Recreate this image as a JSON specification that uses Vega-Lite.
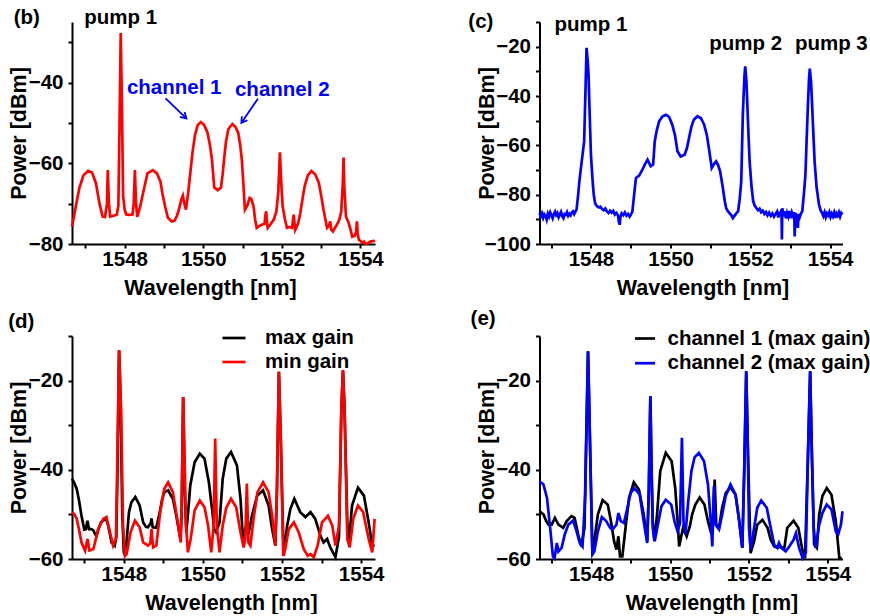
{
 "$schema": "https://vega.github.io/schema/vega-lite/v6.json",
 "padding": {"left": 8, "top": 8, "right": 0, "bottom": 0},
 "background": "white",
 "bounds": "flush",
 "columns": 2,
 "spacing": {"row": 92, "column": 164.5},
 "resolve": {"scale": {"x": "independent", "y": "independent", "color": "independent"}, "axis": {"x": "independent", "y": "independent"}, "legend": {"color": "independent"}},
 "config": {
  "font": "Liberation Sans",
  "view": {"stroke": null},
  "axis": {"grid": false, "domainColor": "black", "domainWidth": 2, "tickColor": "black", "tickWidth": 2, "tickSize": 4, "labelFont": "Liberation Sans", "labelFontSize": 20.5, "labelFontWeight": "bold", "labelColor": "black", "titleFont": "Liberation Sans", "titleFontSize": 21.5, "titleFontWeight": "bold", "titleColor": "black", "labelFlush": false, "labelOverlap": false},
  "axisX": {"labelPadding": 1, "titlePadding": 8, "minExtent": 25, "maxExtent": 25},
  "axisY": {"labelPadding": 5, "titlePadding": 3, "minExtent": 38.5, "maxExtent": 38.5}
 },
 "datasets": {
  "b_line": [
   {"x":1546.66,"y":-75.7},{"x":1546.75,"y":-71},{"x":1546.85,"y":-66},{"x":1546.95,"y":-63},{"x":1547.07,"y":-61.9},{"x":1547.17,"y":-62.3},{"x":1547.27,"y":-65},{"x":1547.36,"y":-70},{"x":1547.44,"y":-73.2},{"x":1547.5,"y":-73.3},{"x":1547.55,"y":-70},{"x":1547.57,"y":-61.7},{"x":1547.6,"y":-70},{"x":1547.63,"y":-73.2},{"x":1547.72,"y":-73},{"x":1547.8,"y":-72.7},{"x":1547.84,"y":-70.5},{"x":1547.87,"y":-50},{"x":1547.9,"y":-27.7},{"x":1547.93,"y":-45},{"x":1547.96,"y":-68},{"x":1548.0,"y":-71.5},{"x":1548.04,"y":-72.7},{"x":1548.1,"y":-72.8},{"x":1548.2,"y":-72.7},{"x":1548.23,"y":-70},{"x":1548.26,"y":-61.7},{"x":1548.29,"y":-70},{"x":1548.32,"y":-73.3},{"x":1548.4,"y":-70.5},{"x":1548.47,"y":-67.3},{"x":1548.58,"y":-62.5},{"x":1548.72,"y":-61.7},{"x":1548.82,"y":-62.5},{"x":1548.91,"y":-64.5},{"x":1548.97,"y":-68},{"x":1549.03,"y":-70.7},{"x":1549.1,"y":-73.5},{"x":1549.2,"y":-74.4},{"x":1549.27,"y":-74.2},{"x":1549.33,"y":-73},{"x":1549.38,"y":-71.5},{"x":1549.44,"y":-69},{"x":1549.48,"y":-68},{"x":1549.52,"y":-70},{"x":1549.56,"y":-71.5},{"x":1549.62,"y":-67},{"x":1549.68,"y":-61.5},{"x":1549.73,"y":-57},{"x":1549.79,"y":-53},{"x":1549.86,"y":-50.5},{"x":1549.94,"y":-49.8},{"x":1550.02,"y":-50.5},{"x":1550.11,"y":-52.5},{"x":1550.17,"y":-55.5},{"x":1550.22,"y":-59},{"x":1550.28,"y":-66},{"x":1550.37,"y":-66.7},{"x":1550.45,"y":-66},{"x":1550.49,"y":-63},{"x":1550.53,"y":-59},{"x":1550.58,"y":-54.5},{"x":1550.64,"y":-51.5},{"x":1550.74,"y":-50.25},{"x":1550.82,"y":-51},{"x":1550.89,"y":-52.5},{"x":1550.94,"y":-55.5},{"x":1550.98,"y":-59},{"x":1551.02,"y":-65},{"x":1551.06,"y":-71.5},{"x":1551.12,"y":-70.5},{"x":1551.18,"y":-68.6},{"x":1551.22,"y":-68.8},{"x":1551.28,"y":-70.7},{"x":1551.32,"y":-74},{"x":1551.36,"y":-76},{"x":1551.43,"y":-75.5},{"x":1551.49,"y":-75.25},{"x":1551.56,"y":-75},{"x":1551.58,"y":-73},{"x":1551.6,"y":-71.9},{"x":1551.62,"y":-74.5},{"x":1551.64,"y":-76},{"x":1551.72,"y":-75},{"x":1551.79,"y":-74},{"x":1551.86,"y":-72},{"x":1551.91,"y":-67},{"x":1551.95,"y":-57.3},{"x":1551.98,"y":-64},{"x":1552.02,"y":-70.7},{"x":1552.08,"y":-74},{"x":1552.13,"y":-76},{"x":1552.2,"y":-75.8},{"x":1552.26,"y":-76},{"x":1552.3,"y":-72.75},{"x":1552.34,"y":-76.5},{"x":1552.41,"y":-75},{"x":1552.47,"y":-72.3},{"x":1552.53,"y":-68.5},{"x":1552.58,"y":-65.7},{"x":1552.66,"y":-63},{"x":1552.75,"y":-61.9},{"x":1552.85,"y":-62.8},{"x":1552.94,"y":-64.8},{"x":1553.0,"y":-68},{"x":1553.06,"y":-71.5},{"x":1553.11,"y":-74},{"x":1553.15,"y":-76},{"x":1553.2,"y":-75.5},{"x":1553.23,"y":-74.4},{"x":1553.26,"y":-76.5},{"x":1553.3,"y":-76.9},{"x":1553.35,"y":-76},{"x":1553.4,"y":-75.25},{"x":1553.46,"y":-74},{"x":1553.51,"y":-72},{"x":1553.55,"y":-65},{"x":1553.57,"y":-58.6},{"x":1553.59,"y":-66},{"x":1553.63,"y":-73.2},{"x":1553.7,"y":-74.8},{"x":1553.75,"y":-76.5},{"x":1553.79,"y":-78.2},{"x":1553.85,"y":-78},{"x":1553.89,"y":-77},{"x":1553.91,"y":-74.4},{"x":1553.93,"y":-77.5},{"x":1553.96,"y":-79},{"x":1554.0,"y":-79.2},{"x":1554.04,"y":-79.7},{"x":1554.09,"y":-79.4},{"x":1554.13,"y":-80},{"x":1554.19,"y":-79.8},{"x":1554.25,"y":-79.4},{"x":1554.31,"y":-79.3},{"x":1554.37,"y":-79.2}
  ],
  "b_text": [{"x":1545.51,"y":-25.5,"text":"(b)"},{"x":1547.9,"y":-25.5,"text":"pump 1"}],
  "b_chan": [{"x":1549.26,"y":-42.9,"text":"channel 1"},{"x":1552.01,"y":-43.4,"text":"channel 2"}],
  "b_arrow": [{"x":1549.04,"y":-43.9,"x2":1549.57,"y2":-48.9},{"x":1551.39,"y":-44.0,"x2":1550.97,"y2":-50.0}],
  "c_line": [
   {"x":1546.71,"y":-87.5},{"x":1546.74,"y":-88.8},{"x":1546.77,"y":-87.6},{"x":1546.8,"y":-89.4},{"x":1546.83,"y":-87.9},{"x":1546.86,"y":-88.6},{"x":1546.89,"y":-90.1},{"x":1546.92,"y":-87.7},{"x":1546.95,"y":-88.9},{"x":1546.98,"y":-87.2},{"x":1547.01,"y":-88.4},{"x":1547.04,"y":-89.6},{"x":1547.07,"y":-87.8},{"x":1547.1,"y":-86.9},{"x":1547.13,"y":-88.3},{"x":1547.16,"y":-87.5},{"x":1547.19,"y":-89.2},{"x":1547.22,"y":-88.1},{"x":1547.25,"y":-87.0},{"x":1547.28,"y":-88.7},{"x":1547.31,"y":-89.5},{"x":1547.34,"y":-87.9},{"x":1547.37,"y":-88.2},{"x":1547.4,"y":-87.1},{"x":1547.43,"y":-88.6},{"x":1547.46,"y":-87.8},{"x":1547.49,"y":-88.4},{"x":1547.52,"y":-87.2},{"x":1547.55,"y":-86.8},{"x":1547.58,"y":-87.9},{"x":1547.61,"y":-86.9},{"x":1547.64,"y":-86.0},{"x":1547.68,"y":-80},{"x":1547.71,"y":-74.6},{"x":1547.75,"y":-69},{"x":1547.79,"y":-63.8},{"x":1547.83,"y":-58.4},{"x":1547.86,"y":-40},{"x":1547.89,"y":-20.5},{"x":1547.92,"y":-26},{"x":1547.94,"y":-31.4},{"x":1547.97,"y":-48},{"x":1548.0,"y":-63.8},{"x":1548.04,"y":-74},{"x":1548.07,"y":-80},{"x":1548.1,"y":-83},{"x":1548.12,"y":-84},{"x":1548.16,"y":-84.8},{"x":1548.2,"y":-85.2},{"x":1548.24,"y":-84.9},{"x":1548.28,"y":-85.8},{"x":1548.32,"y":-86.3},{"x":1548.36,"y":-85.6},{"x":1548.4,"y":-86.8},{"x":1548.44,"y":-87.4},{"x":1548.48,"y":-86.5},{"x":1548.52,"y":-87.3},{"x":1548.56,"y":-86.6},{"x":1548.6,"y":-88.1},{"x":1548.64,"y":-87.4},{"x":1548.68,"y":-88.5},{"x":1548.7,"y":-91},{"x":1548.72,"y":-92.2},{"x":1548.74,"y":-89},{"x":1548.77,"y":-87.6},{"x":1548.81,"y":-88.3},{"x":1548.85,"y":-87.2},{"x":1548.89,"y":-88.5},{"x":1548.93,"y":-87.8},{"x":1548.97,"y":-88.9},{"x":1549.0,"y":-88.2},{"x":1549.04,"y":-86.8},{"x":1549.09,"y":-79},{"x":1549.13,"y":-73.2},{"x":1549.21,"y":-72.3},{"x":1549.29,"y":-69.9},{"x":1549.36,"y":-67.5},{"x":1549.42,"y":-65.8},{"x":1549.47,"y":-67.5},{"x":1549.5,"y":-68.5},{"x":1549.56,"y":-67.8},{"x":1549.6,"y":-58.4},{"x":1549.65,"y":-54},{"x":1549.71,"y":-50.3},{"x":1549.79,"y":-48.3},{"x":1549.88,"y":-47.6},{"x":1549.96,"y":-48.5},{"x":1550.04,"y":-51.6},{"x":1550.11,"y":-56},{"x":1550.17,"y":-62.4},{"x":1550.25,"y":-64.5},{"x":1550.35,"y":-63.8},{"x":1550.41,"y":-61},{"x":1550.46,"y":-57},{"x":1550.52,"y":-52.5},{"x":1550.58,"y":-49.6},{"x":1550.67,"y":-48.2},{"x":1550.76,"y":-49},{"x":1550.84,"y":-51.6},{"x":1550.91,"y":-56},{"x":1550.97,"y":-62.4},{"x":1551.03,"y":-69.2},{"x":1551.09,"y":-67.5},{"x":1551.14,"y":-66.5},{"x":1551.19,"y":-68},{"x":1551.24,"y":-70.5},{"x":1551.31,"y":-77.3},{"x":1551.35,"y":-82},{"x":1551.39,"y":-85.4},{"x":1551.43,"y":-86.6},{"x":1551.47,"y":-87.4},{"x":1551.52,"y":-88.3},{"x":1551.56,"y":-89.5},{"x":1551.6,"y":-88.6},{"x":1551.65,"y":-87.5},{"x":1551.69,"y":-86.8},{"x":1551.73,"y":-82},{"x":1551.77,"y":-74.6},{"x":1551.81,"y":-47.6},{"x":1551.85,"y":-32},{"x":1551.87,"y":-28},{"x":1551.9,"y":-34},{"x":1551.92,"y":-42.2},{"x":1551.95,"y":-55},{"x":1551.98,"y":-66.5},{"x":1552.03,"y":-77},{"x":1552.07,"y":-82.7},{"x":1552.11,"y":-84.5},{"x":1552.15,"y":-85.4},{"x":1552.19,"y":-86.3},{"x":1552.23,"y":-85.7},{"x":1552.27,"y":-87.1},{"x":1552.31,"y":-86.5},{"x":1552.35,"y":-87.8},{"x":1552.39,"y":-87.0},{"x":1552.43,"y":-88.4},{"x":1552.47,"y":-87.3},{"x":1552.51,"y":-88.6},{"x":1552.55,"y":-87.6},{"x":1552.59,"y":-88.9},{"x":1552.63,"y":-87.8},{"x":1552.67,"y":-86.8},{"x":1552.7,"y":-89.3},{"x":1552.73,"y":-86.9},{"x":1552.76,"y":-88.9},{"x":1552.78,"y":-86.0},{"x":1552.79,"y":-98.2},{"x":1552.8,"y":-85.5},{"x":1552.83,"y":-88.7},{"x":1552.86,"y":-86.7},{"x":1552.89,"y":-89.6},{"x":1552.92,"y":-87.4},{"x":1552.95,"y":-88.9},{"x":1552.98,"y":-86.6},{"x":1553.01,"y":-89.5},{"x":1553.04,"y":-87.2},{"x":1553.07,"y":-88.6},{"x":1553.1,"y":-87.1},{"x":1553.11,"y":-96.9},{"x":1553.13,"y":-87.5},{"x":1553.16,"y":-89.3},{"x":1553.19,"y":-93.5},{"x":1553.21,"y":-87.8},{"x":1553.24,"y":-89.0},{"x":1553.27,"y":-87.6},{"x":1553.3,"y":-86.8},{"x":1553.34,"y":-80},{"x":1553.38,"y":-71.9},{"x":1553.41,"y":-58},{"x":1553.44,"y":-44.9},{"x":1553.47,"y":-33},{"x":1553.49,"y":-28.9},{"x":1553.52,"y":-34},{"x":1553.54,"y":-40.8},{"x":1553.57,"y":-52},{"x":1553.61,"y":-66.5},{"x":1553.66,"y":-77},{"x":1553.72,"y":-84},{"x":1553.76,"y":-86.3},{"x":1553.8,"y":-87.5},{"x":1553.83,"y":-88.7},{"x":1553.86,"y":-87.2},{"x":1553.89,"y":-89.1},{"x":1553.92,"y":-87.6},{"x":1553.95,"y":-88.4},{"x":1553.98,"y":-87.1},{"x":1554.01,"y":-89.0},{"x":1554.04,"y":-87.7},{"x":1554.07,"y":-88.8},{"x":1554.1,"y":-87.3},{"x":1554.13,"y":-89.4},{"x":1554.16,"y":-87.6},{"x":1554.19,"y":-88.5},{"x":1554.22,"y":-87.2},{"x":1554.25,"y":-88.9},{"x":1554.28,"y":-87.4},{"x":1554.31,"y":-88.0}
  ],
  "c_text": [{"x":1545.24,"y":-12.3,"text":"(c)"},{"x":1548.0,"y":-13.5,"text":"pump 1"},{"x":1551.88,"y":-21.35,"text":"pump 2"},{"x":1554.03,"y":-21.35,"text":"pump 3"}],
  "d_line": [
   {"s":"max gain","x":1546.69,"y":-42},{"s":"max gain","x":1546.75,"y":-43},{"s":"max gain","x":1546.81,"y":-44.3},{"s":"max gain","x":1546.87,"y":-47},{"s":"max gain","x":1546.93,"y":-50.3},{"s":"max gain","x":1547.0,"y":-53.4},{"s":"max gain","x":1547.04,"y":-53.3},{"s":"max gain","x":1547.08,"y":-51.4},{"s":"max gain","x":1547.12,"y":-53.3},{"s":"max gain","x":1547.18,"y":-53.3},{"s":"max gain","x":1547.23,"y":-53.6},{"s":"max gain","x":1547.28,"y":-54.5},{"s":"max gain","x":1547.31,"y":-54.8},{"s":"max gain","x":1547.36,"y":-53.3},{"s":"max gain","x":1547.42,"y":-51.8},{"s":"max gain","x":1547.52,"y":-51},{"s":"max gain","x":1547.58,"y":-51.6},{"s":"max gain","x":1547.64,"y":-54},{"s":"max gain","x":1547.69,"y":-56.3},{"s":"max gain","x":1547.77,"y":-57},{"s":"max gain","x":1547.81,"y":-55},{"s":"max gain","x":1547.84,"y":-40},{"s":"max gain","x":1547.88,"y":-13.2},{"s":"max gain","x":1547.92,"y":-25},{"s":"max gain","x":1547.96,"y":-50},{"s":"max gain","x":1548.0,"y":-58.5},{"s":"max gain","x":1548.04,"y":-59.3},{"s":"max gain","x":1548.08,"y":-55},{"s":"max gain","x":1548.13,"y":-49.5},{"s":"max gain","x":1548.19,"y":-47.3},{"s":"max gain","x":1548.29,"y":-46.1},{"s":"max gain","x":1548.4,"y":-48},{"s":"max gain","x":1548.49,"y":-51.8},{"s":"max gain","x":1548.56,"y":-52.8},{"s":"max gain","x":1548.61,"y":-52.9},{"s":"max gain","x":1548.68,"y":-52},{"s":"max gain","x":1548.7,"y":-50.9},{"s":"max gain","x":1548.73,"y":-52.9},{"s":"max gain","x":1548.82,"y":-53},{"s":"max gain","x":1548.91,"y":-49.5},{"s":"max gain","x":1548.97,"y":-46.5},{"s":"max gain","x":1549.03,"y":-45},{"s":"max gain","x":1549.12,"y":-44.6},{"s":"max gain","x":1549.24,"y":-46.5},{"s":"max gain","x":1549.31,"y":-49.5},{"s":"max gain","x":1549.37,"y":-52.5},{"s":"max gain","x":1549.43,"y":-55.5},{"s":"max gain","x":1549.46,"y":-50},{"s":"max gain","x":1549.5,"y":-23.7},{"s":"max gain","x":1549.54,"y":-45},{"s":"max gain","x":1549.58,"y":-54},{"s":"max gain","x":1549.63,"y":-49},{"s":"max gain","x":1549.68,"y":-43.5},{"s":"max gain","x":1549.79,"y":-38.3},{"s":"max gain","x":1549.92,"y":-36.4},{"s":"max gain","x":1550.04,"y":-37.5},{"s":"max gain","x":1550.15,"y":-42.8},{"s":"max gain","x":1550.24,"y":-49.5},{"s":"max gain","x":1550.28,"y":-53.3},{"s":"max gain","x":1550.33,"y":-54},{"s":"max gain","x":1550.42,"y":-51.8},{"s":"max gain","x":1550.5,"y":-42},{"s":"max gain","x":1550.59,"y":-37.5},{"s":"max gain","x":1550.71,"y":-36},{"s":"max gain","x":1550.86,"y":-39},{"s":"max gain","x":1550.95,"y":-46.5},{"s":"max gain","x":1551.01,"y":-55.5},{"s":"max gain","x":1551.08,"y":-53},{"s":"max gain","x":1551.16,"y":-54},{"s":"max gain","x":1551.24,"y":-50.3},{"s":"max gain","x":1551.37,"y":-45.8},{"s":"max gain","x":1551.52,"y":-44.6},{"s":"max gain","x":1551.66,"y":-48},{"s":"max gain","x":1551.75,"y":-53.3},{"s":"max gain","x":1551.83,"y":-57},{"s":"max gain","x":1551.87,"y":-45},{"s":"max gain","x":1551.92,"y":-18},{"s":"max gain","x":1551.97,"y":-33.8},{"s":"max gain","x":1552.04,"y":-59.3},{"s":"max gain","x":1552.13,"y":-52.5},{"s":"max gain","x":1552.21,"y":-48.8},{"s":"max gain","x":1552.31,"y":-46.5},{"s":"max gain","x":1552.46,"y":-49.5},{"s":"max gain","x":1552.59,"y":-50.6},{"s":"max gain","x":1552.72,"y":-49.5},{"s":"max gain","x":1552.84,"y":-51},{"s":"max gain","x":1552.97,"y":-54.8},{"s":"max gain","x":1553.05,"y":-56.3},{"s":"max gain","x":1553.14,"y":-55.5},{"s":"max gain","x":1553.22,"y":-57.4},{"s":"max gain","x":1553.35,"y":-59.6},{"s":"max gain","x":1553.44,"y":-55},{"s":"max gain","x":1553.5,"y":-26.3},{"s":"max gain","x":1553.54,"y":-17.7},{"s":"max gain","x":1553.58,"y":-26.3},{"s":"max gain","x":1553.65,"y":-52},{"s":"max gain","x":1553.69,"y":-56.3},{"s":"max gain","x":1553.77,"y":-48},{"s":"max gain","x":1553.92,"y":-44},{"s":"max gain","x":1554.07,"y":-45.8},{"s":"max gain","x":1554.19,"y":-51.8},{"s":"max gain","x":1554.28,"y":-57},{"s":"max gain","x":1554.34,"y":-57},
   {"s":"min gain","x":1546.69,"y":-49.5},{"s":"min gain","x":1546.75,"y":-50},{"s":"min gain","x":1546.81,"y":-51},{"s":"min gain","x":1546.87,"y":-53.5},{"s":"min gain","x":1546.93,"y":-56.3},{"s":"min gain","x":1547.02,"y":-58.1},{"s":"min gain","x":1547.08,"y":-55.5},{"s":"min gain","x":1547.13,"y":-58.1},{"s":"min gain","x":1547.23,"y":-57.8},{"s":"min gain","x":1547.35,"y":-53.3},{"s":"min gain","x":1547.48,"y":-51},{"s":"min gain","x":1547.56,"y":-50.6},{"s":"min gain","x":1547.65,"y":-54},{"s":"min gain","x":1547.73,"y":-57},{"s":"min gain","x":1547.8,"y":-55.5},{"s":"min gain","x":1547.83,"y":-41.3},{"s":"min gain","x":1547.88,"y":-13.2},{"s":"min gain","x":1547.93,"y":-26.3},{"s":"min gain","x":1547.98,"y":-52.5},{"s":"min gain","x":1548.03,"y":-59.3},{"s":"min gain","x":1548.07,"y":-58.9},{"s":"min gain","x":1548.17,"y":-54},{"s":"min gain","x":1548.28,"y":-51.4},{"s":"min gain","x":1548.4,"y":-52.9},{"s":"min gain","x":1548.49,"y":-56.3},{"s":"min gain","x":1548.61,"y":-57},{"s":"min gain","x":1548.67,"y":-56.5},{"s":"min gain","x":1548.7,"y":-53.3},{"s":"min gain","x":1548.74,"y":-57.4},{"s":"min gain","x":1548.82,"y":-57},{"s":"min gain","x":1548.92,"y":-49.5},{"s":"min gain","x":1549.02,"y":-44.3},{"s":"min gain","x":1549.12,"y":-42.8},{"s":"min gain","x":1549.24,"y":-45},{"s":"min gain","x":1549.35,"y":-51},{"s":"min gain","x":1549.44,"y":-56.3},{"s":"min gain","x":1549.47,"y":-45},{"s":"min gain","x":1549.5,"y":-23.7},{"s":"min gain","x":1549.53,"y":-35},{"s":"min gain","x":1549.57,"y":-52},{"s":"min gain","x":1549.62,"y":-58.5},{"s":"min gain","x":1549.69,"y":-55.5},{"s":"min gain","x":1549.79,"y":-49.1},{"s":"min gain","x":1549.92,"y":-46.9},{"s":"min gain","x":1550.04,"y":-48.4},{"s":"min gain","x":1550.13,"y":-52.5},{"s":"min gain","x":1550.21,"y":-58.5},{"s":"min gain","x":1550.27,"y":-52.5},{"s":"min gain","x":1550.31,"y":-33},{"s":"min gain","x":1550.35,"y":-52.5},{"s":"min gain","x":1550.42,"y":-58.5},{"s":"min gain","x":1550.5,"y":-52.5},{"s":"min gain","x":1550.59,"y":-48.5},{"s":"min gain","x":1550.71,"y":-46.5},{"s":"min gain","x":1550.84,"y":-48.4},{"s":"min gain","x":1550.95,"y":-54},{"s":"min gain","x":1551.03,"y":-57.4},{"s":"min gain","x":1551.07,"y":-55.5},{"s":"min gain","x":1551.11,"y":-43.1},{"s":"min gain","x":1551.15,"y":-56.3},{"s":"min gain","x":1551.2,"y":-57},{"s":"min gain","x":1551.28,"y":-51},{"s":"min gain","x":1551.38,"y":-45},{"s":"min gain","x":1551.52,"y":-42.8},{"s":"min gain","x":1551.66,"y":-45},{"s":"min gain","x":1551.75,"y":-50.3},{"s":"min gain","x":1551.83,"y":-57},{"s":"min gain","x":1551.87,"y":-45},{"s":"min gain","x":1551.92,"y":-18},{"s":"min gain","x":1551.97,"y":-33.8},{"s":"min gain","x":1552.03,"y":-59.3},{"s":"min gain","x":1552.08,"y":-57.8},{"s":"min gain","x":1552.17,"y":-53.3},{"s":"min gain","x":1552.3,"y":-51.8},{"s":"min gain","x":1552.42,"y":-54},{"s":"min gain","x":1552.55,"y":-57.8},{"s":"min gain","x":1552.65,"y":-59.3},{"s":"min gain","x":1552.72,"y":-58.9},{"s":"min gain","x":1552.8,"y":-59.6},{"s":"min gain","x":1552.9,"y":-57},{"s":"min gain","x":1553.01,"y":-51.8},{"s":"min gain","x":1553.16,"y":-50.3},{"s":"min gain","x":1553.27,"y":-52.5},{"s":"min gain","x":1553.35,"y":-57},{"s":"min gain","x":1553.44,"y":-52.5},{"s":"min gain","x":1553.5,"y":-26.3},{"s":"min gain","x":1553.54,"y":-17.7},{"s":"min gain","x":1553.58,"y":-26.3},{"s":"min gain","x":1553.65,"y":-55.5},{"s":"min gain","x":1553.71,"y":-57.4},{"s":"min gain","x":1553.8,"y":-51},{"s":"min gain","x":1553.92,"y":-48},{"s":"min gain","x":1554.05,"y":-49.5},{"s":"min gain","x":1554.19,"y":-55.5},{"s":"min gain","x":1554.28,"y":-58.5},{"s":"min gain","x":1554.34,"y":-51}
  ],
  "d_text": [{"x":1545.41,"y":-8.3,"text":"(d)"}],
  "e_line": [
   {"s":"channel 1 (max gain)","x":1546.69,"y":-49.3},{"s":"channel 1 (max gain)","x":1546.79,"y":-50},{"s":"channel 1 (max gain)","x":1546.86,"y":-51.5},{"s":"channel 1 (max gain)","x":1546.92,"y":-52.3},{"s":"channel 1 (max gain)","x":1547.0,"y":-52.3},{"s":"channel 1 (max gain)","x":1547.08,"y":-50.8},{"s":"channel 1 (max gain)","x":1547.17,"y":-52.3},{"s":"channel 1 (max gain)","x":1547.29,"y":-53},{"s":"channel 1 (max gain)","x":1547.38,"y":-51.5},{"s":"channel 1 (max gain)","x":1547.5,"y":-50.4},{"s":"channel 1 (max gain)","x":1547.58,"y":-50.8},{"s":"channel 1 (max gain)","x":1547.67,"y":-54.5},{"s":"channel 1 (max gain)","x":1547.75,"y":-57.2},{"s":"channel 1 (max gain)","x":1547.83,"y":-53},{"s":"channel 1 (max gain)","x":1547.88,"y":-30},{"s":"channel 1 (max gain)","x":1547.92,"y":-13.4},{"s":"channel 1 (max gain)","x":1547.95,"y":-25},{"s":"channel 1 (max gain)","x":1547.98,"y":-38.1},{"s":"channel 1 (max gain)","x":1548.03,"y":-58.3},{"s":"channel 1 (max gain)","x":1548.08,"y":-56},{"s":"channel 1 (max gain)","x":1548.17,"y":-50},{"s":"channel 1 (max gain)","x":1548.29,"y":-46.8},{"s":"channel 1 (max gain)","x":1548.42,"y":-47.8},{"s":"channel 1 (max gain)","x":1548.5,"y":-51.5},{"s":"channel 1 (max gain)","x":1548.58,"y":-56},{"s":"channel 1 (max gain)","x":1548.64,"y":-57.9},{"s":"channel 1 (max gain)","x":1548.69,"y":-54.9},{"s":"channel 1 (max gain)","x":1548.73,"y":-59.4},{"s":"channel 1 (max gain)","x":1548.79,"y":-59.4},{"s":"channel 1 (max gain)","x":1548.87,"y":-53},{"s":"channel 1 (max gain)","x":1548.96,"y":-46.3},{"s":"channel 1 (max gain)","x":1549.08,"y":-42.8},{"s":"channel 1 (max gain)","x":1549.21,"y":-44.4},{"s":"channel 1 (max gain)","x":1549.33,"y":-50},{"s":"channel 1 (max gain)","x":1549.42,"y":-56},{"s":"channel 1 (max gain)","x":1549.46,"y":-45},{"s":"channel 1 (max gain)","x":1549.5,"y":-23.5},{"s":"channel 1 (max gain)","x":1549.53,"y":-40},{"s":"channel 1 (max gain)","x":1549.56,"y":-51.5},{"s":"channel 1 (max gain)","x":1549.6,"y":-56},{"s":"channel 1 (max gain)","x":1549.67,"y":-50},{"s":"channel 1 (max gain)","x":1549.75,"y":-40.3},{"s":"channel 1 (max gain)","x":1549.89,"y":-36.2},{"s":"channel 1 (max gain)","x":1550.04,"y":-38.1},{"s":"channel 1 (max gain)","x":1550.13,"y":-44.1},{"s":"channel 1 (max gain)","x":1550.19,"y":-51.5},{"s":"channel 1 (max gain)","x":1550.23,"y":-57.2},{"s":"channel 1 (max gain)","x":1550.28,"y":-55},{"s":"channel 1 (max gain)","x":1550.33,"y":-53},{"s":"channel 1 (max gain)","x":1550.42,"y":-54.9},{"s":"channel 1 (max gain)","x":1550.5,"y":-52.7},{"s":"channel 1 (max gain)","x":1550.56,"y":-50},{"s":"channel 1 (max gain)","x":1550.64,"y":-47.8},{"s":"channel 1 (max gain)","x":1550.75,"y":-46.2},{"s":"channel 1 (max gain)","x":1550.87,"y":-47.8},{"s":"channel 1 (max gain)","x":1550.96,"y":-51.5},{"s":"channel 1 (max gain)","x":1551.03,"y":-53.8},{"s":"channel 1 (max gain)","x":1551.08,"y":-53},{"s":"channel 1 (max gain)","x":1551.13,"y":-42.2},{"s":"channel 1 (max gain)","x":1551.17,"y":-52.3},{"s":"channel 1 (max gain)","x":1551.24,"y":-53},{"s":"channel 1 (max gain)","x":1551.32,"y":-48.5},{"s":"channel 1 (max gain)","x":1551.41,"y":-45.2},{"s":"channel 1 (max gain)","x":1551.53,"y":-43.9},{"s":"channel 1 (max gain)","x":1551.66,"y":-45.6},{"s":"channel 1 (max gain)","x":1551.75,"y":-51.2},{"s":"channel 1 (max gain)","x":1551.83,"y":-57.5},{"s":"channel 1 (max gain)","x":1551.88,"y":-40},{"s":"channel 1 (max gain)","x":1551.93,"y":-17.9},{"s":"channel 1 (max gain)","x":1551.97,"y":-35},{"s":"channel 1 (max gain)","x":1552.04,"y":-58.7},{"s":"channel 1 (max gain)","x":1552.13,"y":-56},{"s":"channel 1 (max gain)","x":1552.21,"y":-52.3},{"s":"channel 1 (max gain)","x":1552.34,"y":-51.2},{"s":"channel 1 (max gain)","x":1552.47,"y":-53},{"s":"channel 1 (max gain)","x":1552.55,"y":-55.7},{"s":"channel 1 (max gain)","x":1552.64,"y":-57.2},{"s":"channel 1 (max gain)","x":1552.72,"y":-57.5},{"s":"channel 1 (max gain)","x":1552.81,"y":-57.2},{"s":"channel 1 (max gain)","x":1552.89,"y":-57.9},{"s":"channel 1 (max gain)","x":1552.97,"y":-53},{"s":"channel 1 (max gain)","x":1553.13,"y":-51.4},{"s":"channel 1 (max gain)","x":1553.25,"y":-53},{"s":"channel 1 (max gain)","x":1553.36,"y":-58.3},{"s":"channel 1 (max gain)","x":1553.42,"y":-59.8},{"s":"channel 1 (max gain)","x":1553.5,"y":-35},{"s":"channel 1 (max gain)","x":1553.55,"y":-17.9},{"s":"channel 1 (max gain)","x":1553.59,"y":-35},{"s":"channel 1 (max gain)","x":1553.65,"y":-56.8},{"s":"channel 1 (max gain)","x":1553.72,"y":-57.5},{"s":"channel 1 (max gain)","x":1553.78,"y":-50},{"s":"channel 1 (max gain)","x":1553.86,"y":-45.9},{"s":"channel 1 (max gain)","x":1553.97,"y":-44.1},{"s":"channel 1 (max gain)","x":1554.09,"y":-45.6},{"s":"channel 1 (max gain)","x":1554.2,"y":-51.5},{"s":"channel 1 (max gain)","x":1554.29,"y":-59.8},{"s":"channel 1 (max gain)","x":1554.35,"y":-59.8},
   {"s":"channel 2 (max gain)","x":1546.69,"y":-42.6},{"s":"channel 2 (max gain)","x":1546.79,"y":-43.3},{"s":"channel 2 (max gain)","x":1546.88,"y":-46.3},{"s":"channel 2 (max gain)","x":1546.96,"y":-53},{"s":"channel 2 (max gain)","x":1547.03,"y":-59.4},{"s":"channel 2 (max gain)","x":1547.07,"y":-59.8},{"s":"channel 2 (max gain)","x":1547.13,"y":-56.4},{"s":"channel 2 (max gain)","x":1547.17,"y":-58.3},{"s":"channel 2 (max gain)","x":1547.25,"y":-57.5},{"s":"channel 2 (max gain)","x":1547.33,"y":-54.5},{"s":"channel 2 (max gain)","x":1547.42,"y":-52.3},{"s":"channel 2 (max gain)","x":1547.54,"y":-51.4},{"s":"channel 2 (max gain)","x":1547.63,"y":-53.8},{"s":"channel 2 (max gain)","x":1547.71,"y":-56.4},{"s":"channel 2 (max gain)","x":1547.78,"y":-57.2},{"s":"channel 2 (max gain)","x":1547.85,"y":-45.6},{"s":"channel 2 (max gain)","x":1547.92,"y":-13.4},{"s":"channel 2 (max gain)","x":1547.98,"y":-38.1},{"s":"channel 2 (max gain)","x":1548.03,"y":-59},{"s":"channel 2 (max gain)","x":1548.08,"y":-58.3},{"s":"channel 2 (max gain)","x":1548.17,"y":-53.8},{"s":"channel 2 (max gain)","x":1548.27,"y":-50.6},{"s":"channel 2 (max gain)","x":1548.38,"y":-51.5},{"s":"channel 2 (max gain)","x":1548.48,"y":-53},{"s":"channel 2 (max gain)","x":1548.54,"y":-53.4},{"s":"channel 2 (max gain)","x":1548.64,"y":-52.3},{"s":"channel 2 (max gain)","x":1548.69,"y":-49.7},{"s":"channel 2 (max gain)","x":1548.75,"y":-51.5},{"s":"channel 2 (max gain)","x":1548.83,"y":-51.9},{"s":"channel 2 (max gain)","x":1548.92,"y":-48.5},{"s":"channel 2 (max gain)","x":1549.0,"y":-45.2},{"s":"channel 2 (max gain)","x":1549.1,"y":-44.1},{"s":"channel 2 (max gain)","x":1549.23,"y":-45.6},{"s":"channel 2 (max gain)","x":1549.33,"y":-51.5},{"s":"channel 2 (max gain)","x":1549.42,"y":-56.4},{"s":"channel 2 (max gain)","x":1549.46,"y":-45},{"s":"channel 2 (max gain)","x":1549.5,"y":-23.5},{"s":"channel 2 (max gain)","x":1549.53,"y":-40},{"s":"channel 2 (max gain)","x":1549.56,"y":-53},{"s":"channel 2 (max gain)","x":1549.61,"y":-56},{"s":"channel 2 (max gain)","x":1549.69,"y":-52.3},{"s":"channel 2 (max gain)","x":1549.78,"y":-48.2},{"s":"channel 2 (max gain)","x":1549.89,"y":-46.7},{"s":"channel 2 (max gain)","x":1550.03,"y":-47.8},{"s":"channel 2 (max gain)","x":1550.11,"y":-51.5},{"s":"channel 2 (max gain)","x":1550.19,"y":-53.8},{"s":"channel 2 (max gain)","x":1550.25,"y":-52},{"s":"channel 2 (max gain)","x":1550.3,"y":-32.8},{"s":"channel 2 (max gain)","x":1550.34,"y":-51.5},{"s":"channel 2 (max gain)","x":1550.39,"y":-54.5},{"s":"channel 2 (max gain)","x":1550.46,"y":-47},{"s":"channel 2 (max gain)","x":1550.54,"y":-40.3},{"s":"channel 2 (max gain)","x":1550.62,"y":-37.2},{"s":"channel 2 (max gain)","x":1550.73,"y":-36.2},{"s":"channel 2 (max gain)","x":1550.86,"y":-38.1},{"s":"channel 2 (max gain)","x":1550.96,"y":-43.3},{"s":"channel 2 (max gain)","x":1551.03,"y":-51.5},{"s":"channel 2 (max gain)","x":1551.07,"y":-57.2},{"s":"channel 2 (max gain)","x":1551.11,"y":-43.7},{"s":"channel 2 (max gain)","x":1551.15,"y":-52.3},{"s":"channel 2 (max gain)","x":1551.24,"y":-53.4},{"s":"channel 2 (max gain)","x":1551.32,"y":-50},{"s":"channel 2 (max gain)","x":1551.41,"y":-45.9},{"s":"channel 2 (max gain)","x":1551.53,"y":-43.3},{"s":"channel 2 (max gain)","x":1551.66,"y":-45.6},{"s":"channel 2 (max gain)","x":1551.75,"y":-51.5},{"s":"channel 2 (max gain)","x":1551.83,"y":-57.5},{"s":"channel 2 (max gain)","x":1551.88,"y":-40},{"s":"channel 2 (max gain)","x":1551.93,"y":-17.9},{"s":"channel 2 (max gain)","x":1551.97,"y":-35},{"s":"channel 2 (max gain)","x":1552.0,"y":-53},{"s":"channel 2 (max gain)","x":1552.04,"y":-57.9},{"s":"channel 2 (max gain)","x":1552.13,"y":-53},{"s":"channel 2 (max gain)","x":1552.21,"y":-48.5},{"s":"channel 2 (max gain)","x":1552.31,"y":-46.9},{"s":"channel 2 (max gain)","x":1552.45,"y":-48.5},{"s":"channel 2 (max gain)","x":1552.55,"y":-53},{"s":"channel 2 (max gain)","x":1552.64,"y":-56.8},{"s":"channel 2 (max gain)","x":1552.72,"y":-57.5},{"s":"channel 2 (max gain)","x":1552.76,"y":-56.4},{"s":"channel 2 (max gain)","x":1552.82,"y":-57.5},{"s":"channel 2 (max gain)","x":1552.93,"y":-58.3},{"s":"channel 2 (max gain)","x":1553.02,"y":-57.2},{"s":"channel 2 (max gain)","x":1553.13,"y":-55.7},{"s":"channel 2 (max gain)","x":1553.19,"y":-54.2},{"s":"channel 2 (max gain)","x":1553.27,"y":-57.5},{"s":"channel 2 (max gain)","x":1553.36,"y":-59.8},{"s":"channel 2 (max gain)","x":1553.44,"y":-58.5},{"s":"channel 2 (max gain)","x":1553.5,"y":-35},{"s":"channel 2 (max gain)","x":1553.55,"y":-17.9},{"s":"channel 2 (max gain)","x":1553.59,"y":-35},{"s":"channel 2 (max gain)","x":1553.64,"y":-53},{"s":"channel 2 (max gain)","x":1553.69,"y":-57.5},{"s":"channel 2 (max gain)","x":1553.78,"y":-52.3},{"s":"channel 2 (max gain)","x":1553.86,"y":-49.7},{"s":"channel 2 (max gain)","x":1553.97,"y":-47.8},{"s":"channel 2 (max gain)","x":1554.09,"y":-48.9},{"s":"channel 2 (max gain)","x":1554.2,"y":-53.8},{"s":"channel 2 (max gain)","x":1554.26,"y":-54.5},{"s":"channel 2 (max gain)","x":1554.33,"y":-52.3},{"s":"channel 2 (max gain)","x":1554.37,"y":-49.3}
  ],
  "e_text": [{"x":1545.26,"y":-7.6,"text":"(e)"}]
 },
 "concat": [
  {
   "width": 303, "height": 222,
   "encoding": {
    "x": {"field": "x", "type": "quantitative", "scale": {"domain": [1546.66, 1554.37], "nice": false, "zero": false}, "axis": {"title": "Wavelength [nm]", "titleX": 138, "values": [1547,1548,1549,1550,1551,1552,1553,1554], "format": "d", "labelExpr": "datum.value % 2 == 0 ? datum.label : ''"}},
    "y": {"field": "y", "type": "quantitative", "scale": {"domain": [-80, -25], "nice": false, "zero": false}, "axis": {"title": "Power [dBm]", "values": [-80,-70,-60,-50,-40,-30], "format": "d", "labelExpr": "datum.value % 20 == 0 ? datum.label : ''"}}
   },
   "layer": [
    {"data": {"name": "b_line"}, "mark": {"type": "line", "color": "#ff0000", "strokeWidth": 2.7}},
    {"data": {"name": "b_text"}, "mark": {"type": "text", "font": "Liberation Sans", "fontWeight": "bold", "fontSize": 20.5, "align": "center", "baseline": "alphabetic", "color": "black"}, "encoding": {"text": {"field": "text"}}},
    {"data": {"name": "b_chan"}, "mark": {"type": "text", "font": "Liberation Sans", "fontWeight": "bold", "fontSize": 20.5, "align": "center", "baseline": "alphabetic", "color": "#0000ff"}, "encoding": {"text": {"field": "text"}}},
    {"data": {"name": "b_arrow"}, "mark": {"type": "rule", "color": "#0000ff", "strokeWidth": 1.8}, "encoding": {"x2": {"field": "x2"}, "y2": {"field": "y2"}}},
    {"data": {"name": "b_arrow"}, "transform": [{"filter": "datum.x < 1550"}], "mark": {"type": "point", "shape": "M-0.6,1L0,0L0.6,1", "filled": false, "color": "#0000ff", "strokeWidth": 1.8, "size": 130, "angle": 134, "opacity": 1}, "encoding": {"x": {"field": "x2", "type": "quantitative"}, "y": {"field": "y2", "type": "quantitative"}}},
    {"data": {"name": "b_arrow"}, "transform": [{"filter": "datum.x > 1550"}], "mark": {"type": "point", "shape": "M-0.6,1L0,0L0.6,1", "filled": false, "color": "#0000ff", "strokeWidth": 1.8, "size": 130, "angle": 215, "opacity": 1}, "encoding": {"x": {"field": "x2", "type": "quantitative"}, "y": {"field": "y2", "type": "quantitative"}}}
   ]
  },
  {
   "width": 303, "height": 222,
   "encoding": {
    "x": {"field": "x", "type": "quantitative", "scale": {"domain": [1546.71, 1554.31], "nice": false, "zero": false}, "axis": {"title": "Wavelength [nm]", "titleX": 163, "values": [1547,1548,1549,1550,1551,1552,1553,1554], "format": "d", "labelExpr": "datum.value % 2 == 0 ? datum.label : ''"}},
    "y": {"field": "y", "type": "quantitative", "scale": {"domain": [-100, -10], "nice": false, "zero": false}, "axis": {"title": "Power [dBm]", "values": [-100,-90,-80,-70,-60,-50,-40,-30,-20,-10], "format": "d", "labelExpr": "datum.value % 20 == 0 ? datum.label : ''"}}
   },
   "layer": [
    {"data": {"name": "c_line"}, "mark": {"type": "line", "color": "#0000ff", "strokeWidth": 2.7}},
    {"data": {"name": "c_text"}, "mark": {"type": "text", "font": "Liberation Sans", "fontWeight": "bold", "fontSize": 20.5, "align": "center", "baseline": "alphabetic", "color": "black"}, "encoding": {"text": {"field": "text"}}}
   ]
  },
  {
   "width": 303, "height": 223,
   "encoding": {
    "x": {"field": "x", "type": "quantitative", "scale": {"domain": [1546.69, 1554.35], "nice": false, "zero": false}, "axis": {"title": "Wavelength [nm]", "titleX": 159, "values": [1547,1548,1549,1550,1551,1552,1553,1554], "format": "d", "labelExpr": "datum.value % 2 == 0 ? datum.label : ''"}},
    "y": {"field": "y", "type": "quantitative", "scale": {"domain": [-60, -10], "nice": false, "zero": false}, "axis": {"title": "Power [dBm]", "values": [-60,-50,-40,-30,-20,-10], "format": "d", "labelExpr": "datum.value % 20 == 0 ? datum.label : ''"}}
   },
   "layer": [
    {"data": {"name": "d_line"}, "transform": [{"filter": "datum.s == 'max gain'"}], "mark": {"type": "line", "strokeWidth": 2.7},
     "encoding": {"color": {"field": "s", "type": "nominal", "scale": {"domain": ["max gain", "min gain"], "range": ["#000000", "#ff0000"]}, "legend": {"title": null, "orient": "none", "legendX": 149, "legendY": -11, "symbolType": "stroke", "symbolSize": 529, "symbolStrokeWidth": 2.7, "labelFont": "Liberation Sans", "labelFontSize": 20.5, "labelFontWeight": "bold", "labelColor": "black", "labelOffset": 18, "rowPadding": -2, "padding": 0}}}},
    {"data": {"name": "d_line"}, "transform": [{"filter": "datum.s == 'min gain'"}], "mark": {"type": "line", "strokeWidth": 2.7},
     "encoding": {"color": {"field": "s", "type": "nominal", "scale": {"domain": ["max gain", "min gain"], "range": ["#000000", "#ff0000"]}, "legend": {"title": null, "orient": "none", "legendX": 149, "legendY": -11, "symbolType": "stroke", "symbolSize": 529, "symbolStrokeWidth": 2.7, "labelFont": "Liberation Sans", "labelFontSize": 20.5, "labelFontWeight": "bold", "labelColor": "black", "labelOffset": 18, "rowPadding": -2, "padding": 0}}}},
    {"data": {"name": "d_text"}, "mark": {"type": "text", "font": "Liberation Sans", "fontWeight": "bold", "fontSize": 20.5, "align": "center", "baseline": "alphabetic", "color": "black"}, "encoding": {"text": {"field": "text"}}}
   ]
  },
  {
   "width": 303, "height": 223,
   "encoding": {
    "x": {"field": "x", "type": "quantitative", "scale": {"domain": [1546.69, 1554.37], "nice": false, "zero": false}, "axis": {"title": "Wavelength [nm]", "titleX": 172, "values": [1547,1548,1549,1550,1551,1552,1553,1554], "format": "d", "labelExpr": "datum.value % 2 == 0 ? datum.label : ''"}},
    "y": {"field": "y", "type": "quantitative", "scale": {"domain": [-60, -10], "nice": false, "zero": false}, "axis": {"title": "Power [dBm]", "values": [-60,-50,-40,-30,-20,-10], "format": "d", "labelExpr": "datum.value % 20 == 0 ? datum.label : ''"}}
   },
   "layer": [
    {"data": {"name": "e_line"}, "transform": [{"filter": "datum.s == 'channel 1 (max gain)'"}], "mark": {"type": "line", "strokeWidth": 2.7},
     "encoding": {"color": {"field": "s", "type": "nominal", "scale": {"domain": ["channel 1 (max gain)", "channel 2 (max gain)"], "range": ["#000000", "#0000ff"]}, "legend": {"title": null, "orient": "none", "legendX": 94, "legendY": -9, "symbolType": "stroke", "symbolSize": 400, "symbolStrokeWidth": 2.7, "labelFont": "Liberation Sans", "labelFontSize": 20.5, "labelFontWeight": "bold", "labelColor": "black", "labelOffset": 11, "labelLimit": 400, "rowPadding": 2.7, "padding": 0}}}},
    {"data": {"name": "e_line"}, "transform": [{"filter": "datum.s == 'channel 2 (max gain)'"}], "mark": {"type": "line", "strokeWidth": 2.7},
     "encoding": {"color": {"field": "s", "type": "nominal", "scale": {"domain": ["channel 1 (max gain)", "channel 2 (max gain)"], "range": ["#000000", "#0000ff"]}, "legend": {"title": null, "orient": "none", "legendX": 94, "legendY": -9, "symbolType": "stroke", "symbolSize": 400, "symbolStrokeWidth": 2.7, "labelFont": "Liberation Sans", "labelFontSize": 20.5, "labelFontWeight": "bold", "labelColor": "black", "labelOffset": 11, "labelLimit": 400, "rowPadding": 2.7, "padding": 0}}}},
    {"data": {"name": "e_text"}, "mark": {"type": "text", "font": "Liberation Sans", "fontWeight": "bold", "fontSize": 20.5, "align": "center", "baseline": "alphabetic", "color": "black"}, "encoding": {"text": {"field": "text"}}}
   ]
  }
 ]
}
